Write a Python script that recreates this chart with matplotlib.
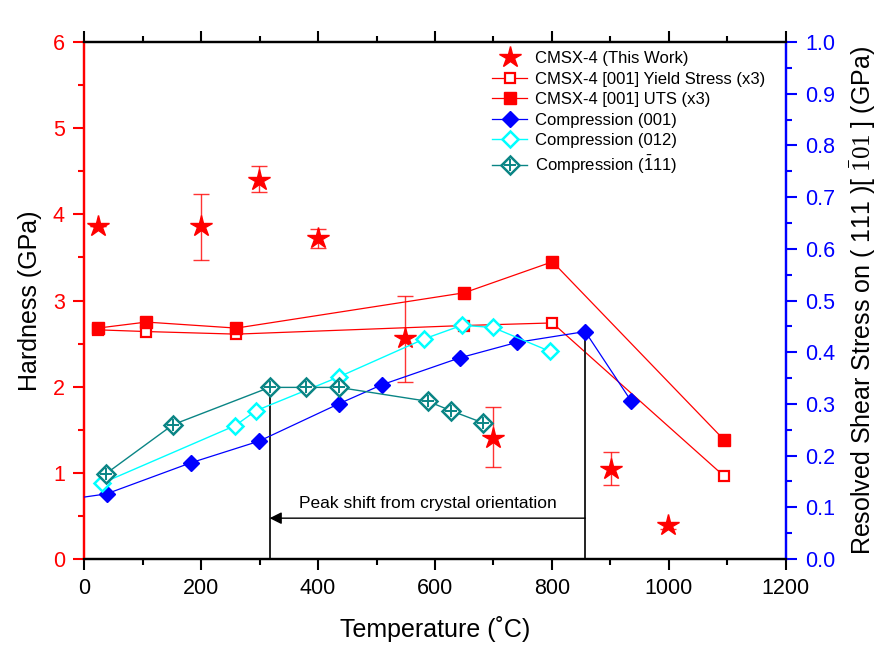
import matplotlib
matplotlib.use("Agg")
import matplotlib.pyplot as plt
from matplotlib.ticker import MultipleLocator
from matplotlib.legend_handler import HandlerTuple

plt.rcParams['font.family'] = ['Liberation Sans', 'DejaVu Sans']
plt.rcParams['mathtext.fontset'] = 'custom'
plt.rcParams['mathtext.rm'] = 'Liberation Serif'
plt.rcParams['mathtext.sf'] = 'Liberation Sans'
plt.rcParams['mathtext.it'] = 'Liberation Serif:italic'

# ---- data ----
star_T = [23, 199, 299, 400, 549, 700, 902, 998]
star_H = [3.86, 3.86, 4.40, 3.72, 2.56, 1.41, 1.05, 0.39]
star_lo = [3.86, 3.47, 4.26, 3.61, 2.06, 1.07, 0.86, 0.35]
star_hi = [3.86, 4.24, 4.56, 3.83, 3.05, 1.76, 1.24, 0.42]

ys_T = [23, 106, 260, 650, 801, 1095]
ys_H = [2.66, 2.64, 2.61, 2.71, 2.74, 0.96]
uts_T = [23, 106, 260, 650, 801, 1095]
uts_H = [2.68, 2.75, 2.68, 3.09, 3.45, 1.38]

c001_T = [-73, 38, 182, 299, 435, 509, 642, 740, 857, 936]
c001_S = [0.108, 0.126, 0.186, 0.228, 0.300, 0.337, 0.389, 0.419, 0.440, 0.305]
c012_T = [31, 258, 294, 435, 582, 646, 699, 796]
c012_S = [0.147, 0.258, 0.287, 0.352, 0.426, 0.452, 0.448, 0.402]
c111_T = [37, 152, 317, 380, 435, 588, 627, 683]
c111_S = [0.165, 0.260, 0.332, 0.332, 0.332, 0.305, 0.287, 0.263]

peak_T = [317, 857]
peak_S = [0.332, 0.440]
arrow_S = 0.079
note = "Peak shift from crystal orientation"

RED = '#ff0000'
BLUE = '#0000ff'
CYAN = '#00ffff'
TEAL = '#0a8585'

fig = plt.figure(figsize=(8.8, 6.47), dpi=100)
ax = fig.add_axes([0.0958, 0.136, 0.797, 0.799])
ax2 = ax.twinx()

# left axis (hardness)
err_lo = [h - l for h, l in zip(star_H, star_lo)]
err_hi = [u - h for h, u in zip(star_H, star_hi)]
ax.errorbar(star_T, star_H, yerr=[err_lo, err_hi], fmt='none', ecolor=RED,
            elinewidth=1.0, capsize=6, capthick=1.0, alpha=0.8, zorder=3)
h_star, = ax.plot(star_T, star_H, linestyle='none', marker='*', ms=16,
                  color=RED, mec=RED, zorder=4, label='CMSX-4 (This Work)')
h_ys, = ax.plot(ys_T, ys_H, '-', color=RED, lw=0.9, marker='s', ms=7.5,
                mfc='white', mec=RED, mew=1.6, zorder=3,
                label='CMSX-4 [001] Yield Stress (x3)')
h_uts, = ax.plot(uts_T, uts_H, '-', color=RED, lw=0.9, marker='s', ms=8,
                 mfc=RED, mec=RED, zorder=3, label='CMSX-4 [001] UTS (x3)')

# right axis (resolved shear stress)
h_001, = ax2.plot(c001_T, c001_S, '-', color=BLUE, lw=0.9, marker='D', ms=8.5,
                  mfc=BLUE, mec=BLUE, label='Compression (001)', zorder=3)
h_012, = ax2.plot(c012_T, c012_S, '-', color=CYAN, lw=1.0, marker='D', ms=8.5,
                  mfc='white', mec=CYAN, mew=1.8, label='Compression (012)', zorder=3)
h_111, = ax2.plot(c111_T, c111_S, '-', color=TEAL, lw=1.0, marker='D', ms=9,
                  mfc='white', mec=TEAL, mew=1.8, zorder=3)
h_111p, = ax2.plot(c111_T, c111_S, linestyle='none', marker='+', ms=8,
                   mec=TEAL, mew=1.4, zorder=4)

# peak annotation
for t, s in zip(peak_T, peak_S):
    ax2.plot([t, t], [0, s], color='#222222', lw=1.4, zorder=2)
ax2.annotate('', xy=(peak_T[0], arrow_S), xytext=(peak_T[1], arrow_S),
             arrowprops=dict(arrowstyle='-|>', color='black', lw=1.0,
                             mutation_scale=18, shrinkA=0, shrinkB=0))
ax2.text((peak_T[0] + peak_T[1]) / 2, arrow_S + 0.013, note, ha='center',
         va='bottom', fontsize=12.5, color='black')

# axes limits and ticks
ax.set_xlim(0, 1200)
ax.set_ylim(0, 6)
ax2.set_ylim(0, 1.0)
ax.xaxis.set_major_locator(MultipleLocator(200))
ax.xaxis.set_minor_locator(MultipleLocator(100))
ax.yaxis.set_major_locator(MultipleLocator(1))
ax.yaxis.set_minor_locator(MultipleLocator(0.5))
ax2.set_yticks([i / 10 for i in range(11)])
ax2.set_yticklabels([f"{i/10:.1f}" for i in range(11)])
ax2.yaxis.set_minor_locator(MultipleLocator(0.05))

ax.tick_params(axis='x', which='both', direction='out', top=True,
               labelsize=15.5, colors='black', width=1.5, pad=6)
ax.tick_params(axis='x', which='major', length=8)
ax.tick_params(axis='x', which='minor', length=4.5)
ax.tick_params(axis='y', which='both', direction='out', colors=RED,
               labelsize=15.5, width=1.5, pad=6)
ax.tick_params(axis='y', which='major', length=8)
ax.tick_params(axis='y', which='minor', length=4.5)
ax2.tick_params(axis='y', which='both', direction='out', colors=BLUE,
                labelsize=15.5, width=1.5, pad=6)
ax2.tick_params(axis='y', which='major', length=8)
ax2.tick_params(axis='y', which='minor', length=4.5)

for a in (ax, ax2):
    a.spines['left'].set_color(RED)
    a.spines['right'].set_color(BLUE)
    a.spines['top'].set_color('black')
    a.spines['bottom'].set_color('black')
    for s in a.spines.values():
        s.set_linewidth(1.6)

ax.set_xlabel('Temperature (˚C)', fontsize=18, labelpad=12)
ax.set_ylabel('Hardness (GPa)', fontsize=18, labelpad=8)
ax2.set_ylabel(r'Resolved Shear Stress on ( 111 )[ $\mathrm{\bar{1}01}$ ] (GPa)',
               fontsize=18, labelpad=9)

handles = [h_star, h_ys, h_uts, h_001, h_012, (h_111, h_111p)]
labels = ['CMSX-4 (This Work)', 'CMSX-4 [001] Yield Stress (x3)',
          'CMSX-4 [001] UTS (x3)', 'Compression (001)', 'Compression (012)',
          r'Compression ($\mathsf{\bar{1}}$11)']
leg = ax2.legend(handles, labels, loc='upper left', bbox_to_anchor=(0.572, 0.995),
                 frameon=False, fontsize=12, handlelength=2.1,
                 handletextpad=0.5, labelspacing=0.33, borderaxespad=0,
                 handler_map={tuple: HandlerTuple(ndivide=1)})

fig.savefig('out.png', dpi=100)
